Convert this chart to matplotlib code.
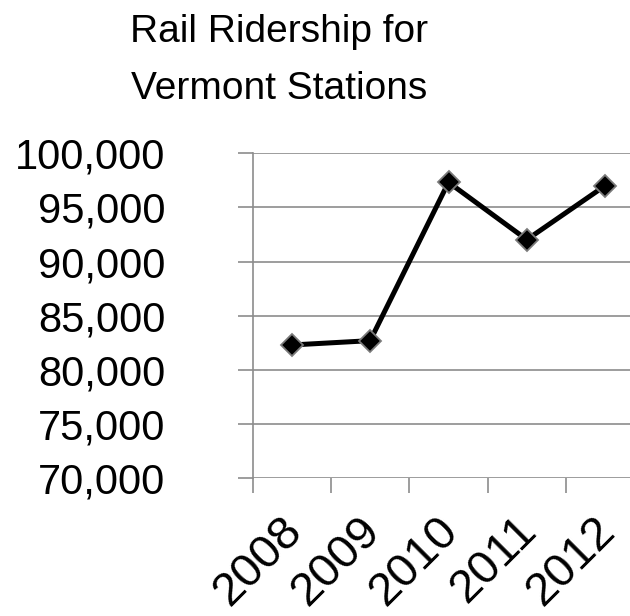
import matplotlib
matplotlib.use("Agg")
import matplotlib.pyplot as plt
from matplotlib.ticker import FuncFormatter, FixedLocator
from matplotlib.transforms import ScaledTranslation

years = ["2008", "2009", "2010", "2011", "2012"]
ridership = [82290, 82690, 97320, 92020, 97010]
yticks = [70000, 75000, 80000, 85000, 90000, 95000, 100000]
title = "Rail Ridership for\nVermont Stations"

FONT = ["Liberation Sans Narrow", "Liberation Sans", "DejaVu Sans"]
plt.rcParams["font.family"] = ["Liberation Sans", "DejaVu Sans"]

fig = plt.figure(figsize=(6.30, 6.16), dpi=100)
ax = fig.add_axes([252.7 / 630, 1 - 478 / 616, 391.6 / 630, (478 - 153.3) / 616])

x = list(range(len(years)))
ax.plot(x, ridership, color="black", lw=3.6, marker="D", markersize=11,
        markerfacecolor="black", markeredgecolor="#7a7a7a", markeredgewidth=1.3,
        zorder=3, clip_on=False)

ax.set_xlim(-0.5, len(years) - 0.5)
ax.set_ylim(70000, 100000)
ax.set_yticks(yticks)
ax.yaxis.set_major_formatter(FuncFormatter(lambda v, p: f"{int(v):,}"))
ax.grid(axis="y", color="#8c8c8c", lw=1.2)
ax.set_axisbelow(True)

for s in ["top", "right", "bottom"]:
    ax.spines[s].set_visible(False)
ax.spines["left"].set_color("#8c8c8c")
ax.spines["left"].set_linewidth(1.2)

ax.tick_params(axis="y", length=11, width=1.2, color="#8c8c8c", labelsize=30, pad=52)
# x: tick marks at category boundaries, labels at category centres
ax.xaxis.set_major_locator(FixedLocator([i - 0.5 for i in range(len(years) + 1)]))
ax.set_xticks(x, years, minor=True)
ax.tick_params(axis="x", which="major", length=11, width=1.2, color="#8c8c8c", labelbottom=False)
ax.tick_params(axis="x", which="minor", length=0, labelsize=34, pad=22)
off = ScaledTranslation(-12 / 100, 0, fig.dpi_scale_trans)
for lab in ax.get_xticklabels(minor=True):
    lab.set_rotation(45)
    lab.set_ha("right")
    lab.set_va("top")
    lab.set_rotation_mode("anchor")
    lab.set_transform(lab.get_transform() + off)

fig.text(0.443, 0.978, title, ha="center", va="top", fontsize=28, family=FONT,
         linespacing=1.77)

fig.savefig("out.png", dpi=100)
